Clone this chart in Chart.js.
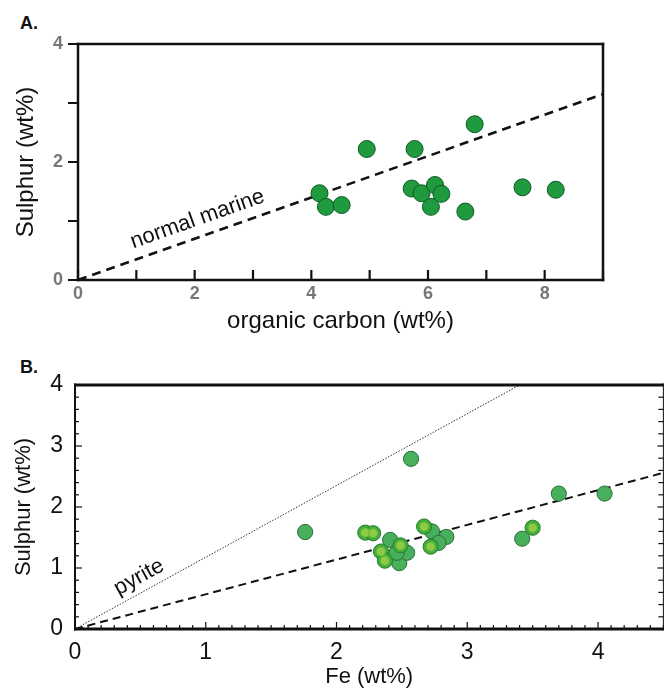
<!DOCTYPE html>
<html><head><meta charset="utf-8">
<script src="https://cdn.jsdelivr.net/npm/chart.js@4/dist/chart.umd.min.js"></script>
<style>
html,body{margin:0;padding:0;background:#fff;overflow:hidden;}
#wrap{position:relative;width:667px;height:691px;overflow:hidden;background:#fff;}
.panel{position:absolute;left:0;}
.lbl{position:absolute;font-family:"Liberation Sans",Arial,sans-serif;font-weight:bold;font-size:18px;color:#111;line-height:1;}
</style></head><body>
<div id="wrap">
<div class="lbl" style="left:20px;top:14px">A.</div>
<div class="lbl" style="left:20px;top:358px">B.</div>
<div class="panel" style="top:0;width:667px;height:340px"><canvas id="cA"></canvas></div>
<div class="panel" style="top:340px;width:672px;height:351px"><canvas id="cB"></canvas></div>
</div>
<script>
// ---- Panel A data ----
const carbonA   = [4.14, 4.25, 4.52, 4.95, 5.77, 5.72, 5.89, 6.12, 6.23, 6.05, 6.64, 6.80, 7.62, 8.19];
const sulphurA  = [1.47, 1.24, 1.27, 2.22, 2.22, 1.55, 1.47, 1.61, 1.46, 1.24, 1.16, 2.64, 1.57, 1.53];
const marineX   = [0, 9];
const marineY   = [0, 3.15];
const ticksAx   = [0, 2, 4, 6, 8];
const ticksAy   = [0, 2, 4];

// ---- Panel B data ----
const feDark      = [1.76, 2.57, 3.70, 4.05, 3.42, 2.41, 2.48, 2.54, 2.46, 2.73, 2.84, 2.78];
const sulphurDark = [1.59, 2.79, 2.22, 2.22, 1.48, 1.46, 1.08, 1.25, 1.25, 1.60, 1.51, 1.41];
const feRing      = [2.22, 2.28, 2.49, 2.34, 2.37, 2.67, 2.72, 3.50];
const sulphurRing = [1.58, 1.57, 1.37, 1.27, 1.12, 1.68, 1.35, 1.66];
const pyriteX     = [0, 3.4];
const pyriteY     = [0, 4];
const trendX      = [0, 4.5];
const trendY      = [0, 2.56];
const ticksBx     = [0, 1, 2, 3, 4];
const ticksBy     = [0, 1, 2, 3, 4];

const FAM = '"Liberation Sans", Arial, sans-serif';
const NARROW = '"Liberation Sans Narrow", "Arial Narrow", "Liberation Sans", Arial, sans-serif';
const pts = (xs, ys) => xs.map((x, i) => ({x, y: ys[i]}));

function makeFramePlugin(cfg) {
  return {
    id: 'framePlugin',
    afterDatasetsDraw(chart) {
      const {ctx, chartArea: a, scales} = chart;
      ctx.save();
      ctx.strokeStyle = '#111';
      ctx.lineCap = 'butt';
      cfg.ticks.forEach(t => {
        const sc = scales[t.axis];
        const n = Math.round((sc.max - sc.min) / t.step);
        for (let i = 0; i <= n; i++) {
          const v = sc.min + i * t.step;
          const major = t.majorEvery ? Math.abs(v / t.majorEvery - Math.round(v / t.majorEvery)) < 1e-6 : true;
          const len = major ? t.major : t.minor;
          const p = sc.getPixelForValue(v);
          ctx.lineWidth = t.width;
          ctx.beginPath();
          if (t.side === 'bottom') { ctx.moveTo(p, a.bottom); ctx.lineTo(p, a.bottom - len); }
          else if (t.side === 'left') { ctx.moveTo(a.left, p); ctx.lineTo(a.left + len, p); }
          else if (t.side === 'right') { ctx.moveTo(a.right, p); ctx.lineTo(a.right - len, p); }
          ctx.stroke();
        }
      });
      const f = cfg.frame;
      const side = (w, x1, y1, x2, y2) => {
        if (!w) return;
        ctx.lineWidth = w; ctx.beginPath(); ctx.moveTo(x1, y1); ctx.lineTo(x2, y2); ctx.stroke();
      };
      side(f.top, a.left - f.left / 2, a.top, a.right + f.right / 2, a.top);
      side(f.bottom, a.left - f.left / 2, a.bottom, a.right + f.right / 2, a.bottom);
      side(f.left, a.left, a.top - f.top / 2, a.left, a.bottom + f.bottom / 2);
      side(f.right, a.right, a.top - f.top / 2, a.right, a.bottom + f.bottom / 2);
      cfg.labels.forEach(l => {
        const xs = scales.x, ys = scales.y;
        const x0 = xs.getPixelForValue(l.lx[0]), y0 = ys.getPixelForValue(l.ly[0]);
        const x1 = xs.getPixelForValue(l.lx[1]), y1 = ys.getPixelForValue(l.ly[1]);
        const ang = Math.atan2(y1 - y0, x1 - x0);
        ctx.save();
        ctx.translate(xs.getPixelForValue(l.x), ys.getPixelForValue(l.y));
        ctx.rotate(ang);
        ctx.fillStyle = '#111';
        ctx.font = l.font;
        ctx.textAlign = 'center';
        ctx.textBaseline = 'middle';
        ctx.fillText(l.text, 0, 0);
        ctx.restore();
      });
      ctx.restore();
    }
  };
}

const common = {
  responsive: true,
  maintainAspectRatio: false,
  animation: false,
  plugins: {legend: {display: false}, tooltip: {enabled: false}},
};

// ---------- Chart A ----------
new Chart(document.getElementById('cA'), {
  type: 'scatter',
  data: {datasets: [
    {data: pts(carbonA, sulphurA), pointRadius: 8.5, backgroundColor: '#1f9a3f', borderColor: '#0e5a22', borderWidth: 1, order: 1},
    {data: pts(marineX, marineY), showLine: true, pointRadius: 0, borderColor: '#111', borderWidth: 2.6, borderDash: [9, 6], fill: false, order: 2}
  ]},
  options: Object.assign({}, common, {
    layout: {padding: {left: 0, top: 44, right: 64, bottom: 0}},
    scales: {
      x: {type: 'linear', min: 0, max: 9,
        afterBuildTicks: s => { s.ticks = [0,1,2,3,4,5,6,7,8,9].map(v => ({value: v})); },
        ticks: {autoSkip: false, maxRotation: 0, padding: 3, color: '#777',
          font: {family: NARROW, size: 18, weight: 'bold'},
          callback: v => ticksAx.includes(v) ? String(v) : ''},
        grid: {display: false, drawTicks: false}, border: {display: false},
        title: {display: true, text: 'organic carbon (wt%)', color: '#111',
          font: {family: FAM, size: 24, lineHeight: 1}, padding: {top: 0, bottom: 7}},
        afterFit: s => { s.height = 60; }
      },
      y: {type: 'linear', min: 0, max: 4,
        afterBuildTicks: s => { s.ticks = [0,1,2,3,4].map(v => ({value: v})); },
        ticks: {padding: 5, color: '#777', font: {family: NARROW, size: 18, weight: 'bold'},
          callback: v => ticksAy.includes(v) ? String(v) : ''},
        grid: {display: true, drawOnChartArea: false, drawTicks: true, tickLength: 10, color: '#111', lineWidth: 2},
        border: {display: false},
        title: {display: true, text: 'Sulphur (wt%)', color: '#111',
          font: {family: FAM, size: 24, lineHeight: 1}, padding: {top: 14, bottom: 0}},
        afterFit: s => { s.width = 78; }
      }
    }
  }),
  plugins: [makeFramePlugin({
    frame: {top: 2.5, bottom: 2.5, left: 2.5, right: 2.5},
    ticks: [{axis: 'x', side: 'bottom', step: 1, major: 10, minor: 10, width: 2.2}],
    labels: [{text: 'normal marine', x: 2.05, y: 1.03, lx: marineX, ly: marineY, font: '22px ' + FAM}]
  })]
});

// ---------- Chart B ----------
new Chart(document.getElementById('cB'), {
  type: 'scatter',
  data: {datasets: [
    {data: pts(feDark, sulphurDark), pointRadius: 7.6, backgroundColor: '#48b05c', borderColor: '#2b6e38', borderWidth: 1, order: 3},
    {data: pts(feRing, sulphurRing), pointRadius: 7.6, backgroundColor: '#3fae3b', borderColor: '#2a7a2a', borderWidth: 1, order: 2},
    {data: pts(feRing, sulphurRing), pointRadius: 4.6, backgroundColor: '#8fca44', borderColor: '#5db63d', borderWidth: 1, order: 1},
    {data: pts(trendX, trendY), showLine: true, pointRadius: 0, borderColor: '#111', borderWidth: 2, borderDash: [8, 5], fill: false, order: 5},
    {data: pts(pyriteX, pyriteY), showLine: true, pointRadius: 0, borderColor: '#333', borderWidth: 1, borderDash: [1.5, 1.5], fill: false, order: 6}
  ]},
  options: Object.assign({}, common, {
    layout: {padding: {left: 0, top: 45, right: 3, bottom: 0}},
    scales: {
      x: {type: 'linear', min: 0, max: 4.5,
        afterBuildTicks: s => { s.ticks = ticksBx.map(v => ({value: v})); },
        ticks: {autoSkip: false, maxRotation: 0, padding: 10, color: '#111',
          font: {family: FAM, size: 23}},
        grid: {display: false, drawTicks: false}, border: {display: false},
        title: {display: true, text: 'Fe (wt%)', color: '#111',
          font: {family: FAM, size: 22, lineHeight: 1}, padding: {top: 0, bottom: 3}},
        afterFit: s => { s.height = 62; }
      },
      y: {type: 'linear', min: 0, max: 4,
        afterBuildTicks: s => { s.ticks = ticksBy.map(v => ({value: v})); },
        ticks: {padding: 12, color: '#111', font: {family: FAM, size: 23}},
        grid: {display: false, drawTicks: false}, border: {display: false},
        title: {display: true, text: 'Sulphur (wt%)', color: '#111',
          font: {family: FAM, size: 22, lineHeight: 1}, padding: {top: 13, bottom: 0}},
        afterFit: s => { s.width = 75; }
      }
    }
  }),
  plugins: [makeFramePlugin({
    frame: {top: 3, bottom: 3, left: 2, right: 1},
    ticks: [
      {axis: 'x', side: 'bottom', step: 0.1, majorEvery: 1, major: 7, minor: 4, width: 1.2},
      {axis: 'y', side: 'left', step: 0.2, majorEvery: 1, major: 7, minor: 4, width: 1.2},
      {axis: 'y', side: 'right', step: 0.2, majorEvery: 1, major: 6, minor: 5, width: 1.2}
    ],
    labels: [{text: 'pyrite', x: 0.49, y: 0.85, lx: pyriteX, ly: pyriteY, font: '22px ' + FAM}]
  })]
});
</script>
</body></html>
